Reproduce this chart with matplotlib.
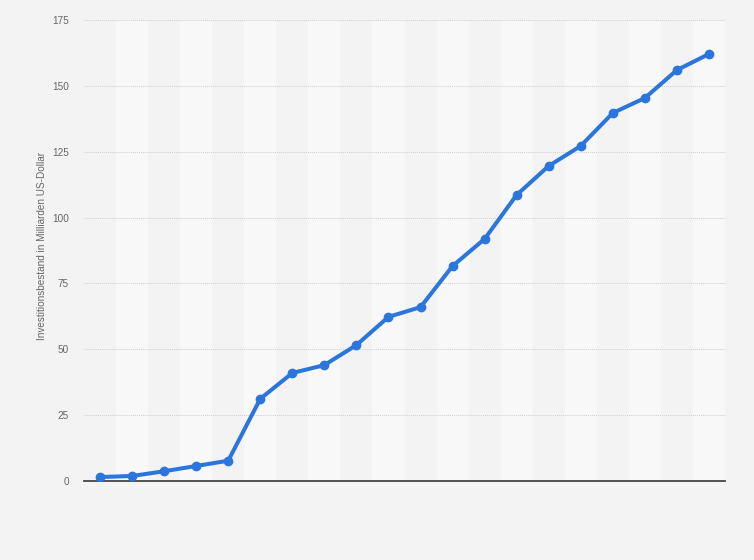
import matplotlib
matplotlib.use("Agg")
import matplotlib.pyplot as plt

plt.rcParams["font.family"] = ["Liberation Sans", "DejaVu Sans"]

categories = list(range(1, 21))
values = [1.5, 1.9, 3.7, 5.7, 7.7, 31.2, 41.0, 44.0, 51.6, 62.3, 66.0, 81.6,
          91.9, 108.6, 119.6, 127.2, 139.7, 145.4, 156.0, 162.1]
yticks = [0, 25, 50, 75, 100, 125, 150, 175]
ylabel = "Investitionsbestand in Milliarden US-Dollar"

fig = plt.figure(figsize=(7.54, 5.6), dpi=100)
fig.patch.set_facecolor("#f3f3f3")
ax = fig.add_axes([84/754, 1-481/560, 641/754, 461/560])
ax.set_facecolor("#f3f3f3")

n = len(categories)
xs = list(range(n))
for i in xs:
    if i % 2 == 1:
        ax.axvspan(i - 0.5, i + 0.5, color="#f8f8f8", zorder=0, lw=0)

ax.set_xlim(-0.5, n - 0.5)
ax.set_ylim(0, 175)
ax.set_yticks(yticks)
ax.set_yticklabels([str(t) for t in yticks], fontsize=7.2, color="#666666")
ax.set_xticks([])
ax.tick_params(axis="y", length=0, pad=10.8)
for t in yticks[1:]:
    ax.axhline(t, color="#cfcfcf", lw=0.7, ls=(0, (1, 1)), zorder=1)
for s in ["top", "right", "left"]:
    ax.spines[s].set_visible(False)
ax.spines["bottom"].set_color("#444444")
ax.spines["bottom"].set_linewidth(1.3)

ax.plot(xs, values, color="#2b76dc", lw=2.9, marker="o", ms=6.0, zorder=3,
        solid_capstyle="round")

ax.set_ylabel(ylabel, fontsize=7.2, color="#666666")
ax.yaxis.set_label_coords((47 - 84) / 641, 0.51)

fig.savefig("out.png", dpi=100, facecolor=fig.get_facecolor())
